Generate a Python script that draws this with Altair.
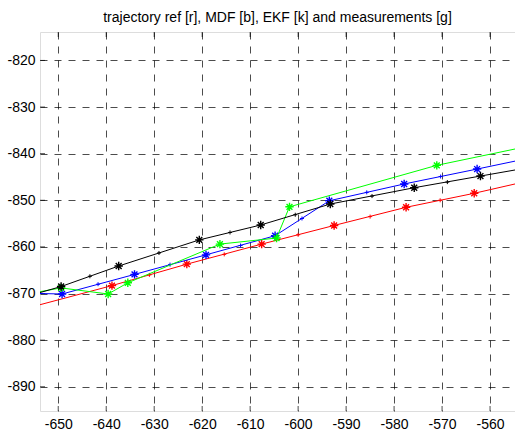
import altair as alt
import pandas as pd

# ---- data ----
X_MIN, X_MAX = -653.8, -554.8
Y_MIN, Y_MAX = -895.2, -813.9
x_ticks = [-650, -640, -630, -620, -610, -600, -590, -580, -570, -560]
y_ticks = [-890, -880, -870, -860, -850, -840, -830, -820]

# reference trajectory (red)
ref_x = [-638.8, -623.2, -607.6, -592.5, -577.5, -563.3]
ref_y = [-868.3, -863.7, -859.4, -855.4, -851.5, -848.5]
ref_edge_y = [-872.4, -846.5]
ref_px = [-631.0, -615.4, -600.0, -585.0, -570.4]
ref_py = [-866.0, -861.6, -857.4, -853.5, -850.0]

# MDF (blue)
mdf_x = [-649.2, -634.1, -619.2, -604.8, -593.5, -577.9, -562.7]
mdf_y = [-870.1, -865.9, -861.7, -857.6, -850.1, -846.5, -843.3]
mdf_edge_y = [-870.0, -841.6]
mdf_px = [-641.7, -626.7, -612.0, -599.2, -585.7, -570.3]
mdf_py = [-868.0, -863.8, -859.7, -853.9, -848.3, -844.9]

# EKF (black)
ekf_x = [-649.4, -637.4, -620.6, -607.8, -593.3, -575.8, -562.0]
ekf_y = [-868.5, -864.1, -858.5, -855.3, -850.8, -847.3, -844.8]
ekf_edge_y = [-869.8, -843.5]
ekf_px = [-643.4, -629.0, -614.2, -600.6, -584.6, -568.9]
ekf_py = [-866.3, -861.3, -856.9, -853.1, -849.1, -846.1]

# measurements (green)
meas_x = [-649.4, -639.6, -635.5, -616.3, -604.5, -601.8, -571.1]
meas_y = [-868.8, -870.1, -867.7, -859.4, -858.1, -851.4, -842.5]
meas_edge_y = [-869.6, -839.0]

series = [
    ("ref", "#ff0000", ref_x, ref_y, ref_edge_y, ref_px, ref_py),
    ("MDF", "#0000ff", mdf_x, mdf_y, mdf_edge_y, mdf_px, mdf_py),
    ("meas", "#00ff00", meas_x, meas_y, meas_edge_y, [], []),
    ("EKF", "#000000", ekf_x, ekf_y, ekf_edge_y, ekf_px, ekf_py),
]

STAR = "M-1,0L1,0M0,-1L0,1M-0.7,-0.7L0.7,0.7M-0.7,0.7L0.7,-0.7"
PLUS = "M-1,0L1,0M0,-1L0,1"

xs = alt.Scale(domain=[X_MIN, X_MAX], nice=False, zero=False)
ys = alt.Scale(domain=[Y_MIN, Y_MAX], nice=False, zero=False)

LBL = "'-' + format(abs(datum.value), 'd')"
x_axis = alt.Axis(values=x_ticks, title=None, grid=True, ticks=False, domain=False,
                  labelPadding=6, labelFlush=False, labelExpr=LBL,
                  gridDash=[7, 7], gridColor="#000000", gridOpacity=0.7, gridWidth=1,
                  labelFont="Liberation Sans", labelFontSize=14, labelColor="black")
y_axis = alt.Axis(values=y_ticks, title=None, grid=True, ticks=False, domain=False,
                  labelPadding=5, labelFlush=False, labelExpr=LBL,
                  gridDash=[7, 7], gridColor="#000000", gridOpacity=0.7, gridWidth=1,
                  labelFont="Liberation Sans", labelFontSize=14, labelColor="black")

layers = []

# base (axes + grid)
base = alt.Chart(pd.DataFrame({"x": [X_MIN], "y": [Y_MIN]})).mark_point(opacity=0).encode(
    x=alt.X("x:Q", scale=xs, axis=x_axis),
    y=alt.Y("y:Q", scale=ys, axis=y_axis),
)
layers.append(base)

# inward tick marks
tick_bottom = pd.DataFrame({"x": x_ticks, "y": [Y_MIN] * len(x_ticks)})
tick_top = pd.DataFrame({"x": x_ticks, "y": [Y_MAX] * len(x_ticks)})
tick_left = pd.DataFrame({"x": [X_MIN] * len(y_ticks), "y": y_ticks})
for df, orient in [(tick_bottom, "vertical"), (tick_top, "vertical"), (tick_left, "horizontal")]:
    layers.append(
        alt.Chart(df).mark_tick(orient=orient, size=10, thickness=1, color="black", clip=True).encode(
            x=alt.X("x:Q", scale=xs), y=alt.Y("y:Q", scale=ys)
        )
    )

for name, color, sx, sy, edge_y, px, py in series:
    line_df = pd.DataFrame({
        "x": [X_MIN] + sx + [X_MAX],
        "y": [edge_y[0]] + sy + [edge_y[1]],
        "o": list(range(len(sx) + 2)),
    })
    layers.append(
        alt.Chart(line_df).mark_line(color=color, strokeWidth=1, clip=True).encode(
            x=alt.X("x:Q", scale=xs), y=alt.Y("y:Q", scale=ys), order="o:Q"
        )
    )
    if px:
        plus_df = pd.DataFrame({"x": px, "y": py})
        layers.append(
            alt.Chart(plus_df).mark_point(shape=PLUS, filled=False, size=16, strokeWidth=1,
                                          color=color, opacity=1, clip=True).encode(
                x=alt.X("x:Q", scale=xs), y=alt.Y("y:Q", scale=ys)
            )
        )
    star_df = pd.DataFrame({"x": sx, "y": sy})
    layers.append(
        alt.Chart(star_df).mark_point(shape=STAR, filled=False, size=70, strokeWidth=1.4,
                                      color=color, opacity=1, clip=True).encode(
            x=alt.X("x:Q", scale=xs), y=alt.Y("y:Q", scale=ys)
        )
    )

chart = alt.layer(*layers).properties(
    width=475,
    height=379,
    title=alt.TitleParams(
        "trajectory ref [r], MDF [b], EKF [k] and measurements [g]",
        font="Liberation Sans", fontSize=14, fontWeight="normal", color="black", offset=7,
    ),
    autosize=alt.AutoSizeParams(type="none"),
    padding={"left": 40, "top": 32, "right": 0, "bottom": 19},
).configure_view(
    stroke="black", strokeWidth=1
).configure(background="white")

chart.save("out.html", embed_options={"renderer": "svg", "actions": False})
